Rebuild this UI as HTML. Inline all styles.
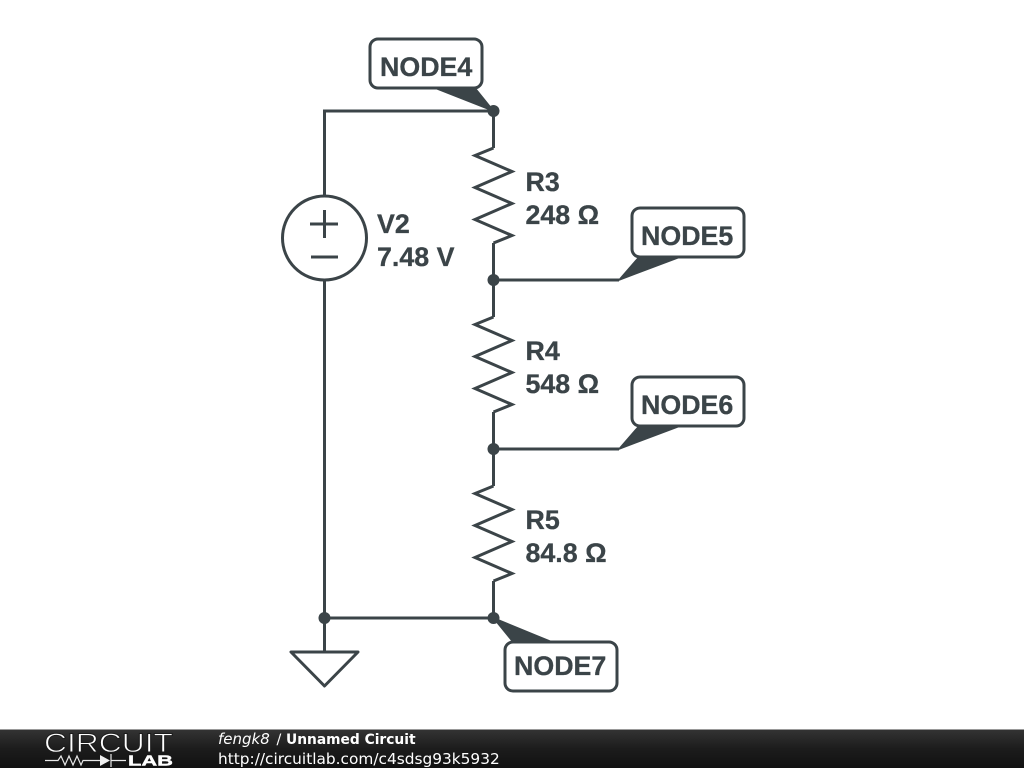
<!DOCTYPE html>
<html>
<head>
<meta charset="utf-8">
<title>Unnamed Circuit</title>
<style>
html,body{margin:0;padding:0;background:#fff;width:1024px;height:768px;overflow:hidden}
svg{display:block}
.l{font-family:"Liberation Sans",Arial,sans-serif;font-weight:700;font-size:26.8px;fill:#3b4448;stroke:#3b4448;stroke-width:0.3}
.f{font-family:"DejaVu Sans",sans-serif;fill:#fff}
</style>
</head>
<body>
<svg width="1024" height="768" viewBox="0 0 1024 768" xmlns="http://www.w3.org/2000/svg">
<defs>
<linearGradient id="bar" x1="0" y1="0" x2="0" y2="1">
<stop offset="0" stop-color="#333"/>
<stop offset="0.5" stop-color="#1c1c1c"/>
<stop offset="1" stop-color="#111"/>
</linearGradient>
</defs>
<rect width="1024" height="768" fill="#fff"/>

<g fill="none" stroke="#3b4448" stroke-width="3" stroke-linejoin="miter">
<!-- wires -->
<path d="M324.5 196V111H493.5V148"/>
<path d="M324.5 280V652"/>
<path d="M324.5 618H493.5"/>
<path d="M493.5 243V317"/>
<path d="M493.5 412V486"/>
<path d="M493.5 581V618"/>
<path d="M493.5 280H619"/>
<path d="M493.5 449H619"/>
<!-- resistors -->
<path d="M493.5 148L475 155.5L512 171.5L475 187.5L512 203.5L475 219.5L512 235.5L493.5 243"/>
<path d="M493.5 317L475 324.5L512 340.5L475 356.5L512 372.5L475 388.5L512 404.5L493.5 412"/>
<path d="M493.5 486L475 493.5L512 509.5L475 525.5L512 541.5L475 557.5L512 573.5L493.5 581"/>
<!-- source -->
<circle cx="324.5" cy="238" r="42"/>
<path d="M310 224H338M324.5 210V238M311 257H338"/>
<!-- ground -->
<path d="M291 652H358L324.5 686Z" stroke-linejoin="round"/>
</g>

<g fill="#3b4448" stroke="#3b4448" stroke-width="1.5" stroke-linejoin="round">
<polygon points="435,88 475,88 493.5,111"/>
<polygon points="619,280 639,257 680,257"/>
<polygon points="619,449 639,426 680,426"/>
<polygon points="493.5,618 513,642 552,642"/>
</g>
<g fill="#3b4448">
<circle cx="493.5" cy="111" r="6"/>
<circle cx="493.5" cy="280" r="6"/>
<circle cx="493.5" cy="449" r="6"/>
<circle cx="493.5" cy="618" r="6"/>
<circle cx="324.5" cy="618" r="6"/>
</g>

<g fill="#fff" stroke="#3b4448" stroke-width="3">
<rect x="370" y="39" width="112" height="49" rx="8"/>
<rect x="632" y="208" width="112" height="49" rx="8"/>
<rect x="632" y="377" width="112" height="49" rx="8"/>
<rect x="505" y="642" width="112" height="49" rx="8"/>
</g>

<text class="l" x="380" y="76">NODE4</text>
<text class="l" x="641" y="245">NODE5</text>
<text class="l" x="641" y="414">NODE6</text>
<text class="l" x="514" y="675">NODE7</text>
<text class="l" x="525.5" y="191">R3</text>
<text class="l" x="525.5" y="224">248 Ω</text>
<text class="l" x="525.5" y="360">R4</text>
<text class="l" x="525.5" y="393">548 Ω</text>
<text class="l" x="525.5" y="529">R5</text>
<text class="l" x="525.5" y="562">84.8 Ω</text>
<text class="l" x="377" y="233">V2</text>
<text class="l" x="377" y="266">7.48 V</text>

<!-- footer -->
<rect x="0" y="730" width="1024" height="38" fill="url(#bar)"/>
<rect x="0" y="729" width="1024" height="1" fill="#999"/>
<text x="44" y="752" font-family="'Liberation Sans',sans-serif" font-size="27" fill="#fff" stroke="#1c1c1c" stroke-width="0.9" textLength="129" lengthAdjust="spacingAndGlyphs">CIRCUIT</text>
<g fill="none" stroke="#e8e8e8" stroke-width="1.2">
<path d="M45 760.5H58L61 756L65 765L69 756L73 765L77 756L81 765L83 760.5H100M111 754V767M111 760.5H126"/>
</g>
<polygon points="100,755 100,766 110,760.5" fill="#f0f0f0"/>
<text x="128" y="765.5" font-family="'Liberation Sans',sans-serif" font-weight="700" font-size="15" fill="#fff" stroke="#fff" stroke-width="0.4" textLength="45" lengthAdjust="spacingAndGlyphs">LAB</text>
<text class="f" font-size="15" font-style="italic" x="218" y="744">fengk8</text>
<text class="f" font-size="14.3" x="276.5" y="744">/</text>
<text class="f" font-size="13.8" font-weight="700" x="286" y="744">Unnamed Circuit</text>
<text class="f" font-size="15.36" x="218" y="764">http://circuitlab.com/c4sdsg93k5932</text>
</svg>
</body>
</html>
